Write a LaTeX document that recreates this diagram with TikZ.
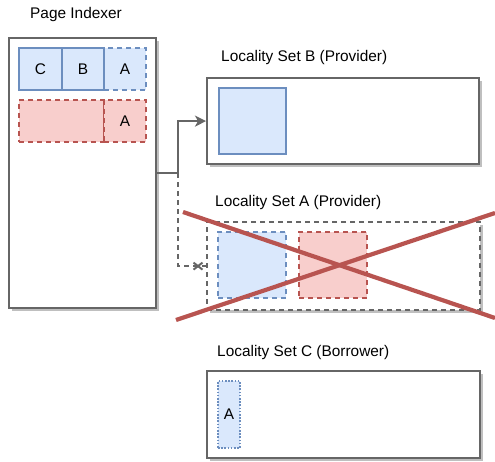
\documentclass[tikz,border=0pt]{standalone}
\usepackage{fontspec}
\setmainfont{Liberation Sans}
\usetikzlibrary{shadows,arrows.meta}
\definecolor{bluefill}{HTML}{DAE8FC}
\definecolor{bluedraw}{HTML}{6C8EBF}
\definecolor{redfill}{HTML}{F8CECC}
\definecolor{reddraw}{HTML}{B85450}
\definecolor{framegray}{HTML}{666666}
\tikzset{
  box/.style={draw=framegray, line width=2.2pt, fill=white, anchor=north west, inner sep=0pt,
    drop shadow={shadow xshift=2.5pt, shadow yshift=-2.5pt, opacity=0.25, fill=black}},
  cell/.style={anchor=north west, inner sep=0pt, line width=2pt},
  bluecell/.style={cell, draw=bluedraw, fill=bluefill},
  redcell/.style={cell, draw=reddraw, fill=redfill},
  dash5/.style={dash pattern=on 5pt off 4pt},
  dots/.style={dash pattern=on 1.6pt off 1.6pt},
  caption/.style={inner sep=0pt, anchor=west},
}
\begin{document}
\begin{tikzpicture}[x=1pt, y=-1pt, font=\fontsize{15.4}{18}\selectfont]
\useasboundingbox (0,0) rectangle (495,461);

% Page indexer column
\node[box, minimum width=147pt, minimum height=270pt] (pi) at (8,37) {};
\node[inner sep=0pt] (pilabel) at (76,15) {Page Indexer};

\node[bluecell, dash5, minimum width=42pt, minimum height=42pt] (ia) at (103,47) {A};
\node[bluecell, minimum width=43pt, minimum height=42pt] (ic) at (18,47) {C};
\node[bluecell, minimum width=42pt, minimum height=42pt] (ib) at (61,47) {B};

\node[redcell, dash5, minimum width=85pt, minimum height=42pt] (ir) at (18,99) {};
\node[redcell, dash5, minimum width=42pt, minimum height=42pt] (ira) at (103,99) {A};

% Locality set B
\node[box, minimum width=272pt, minimum height=86pt] (lsb) at (206,77) {};
\node[caption] (lsblabel) at (221,58) {Locality Set B (Provider)};
\node[bluecell, minimum width=67pt, minimum height=66pt] (lsbp) at (218,87) {};

% Locality set A (dropped)
\node[box, dash5, minimum width=273pt, minimum height=88pt] (lsa) at (206,221) {};
\node[caption] (lsalabel) at (215,203) {Locality Set A (Provider)};
\node[bluecell, dash5, minimum width=68pt, minimum height=66pt] (lsab) at (217,231) {};
\node[redcell, dash5, minimum width=68pt, minimum height=66pt] (lsar) at (298,231) {};

% Locality set C
\node[box, minimum width=273pt, minimum height=87pt] (lsc) at (206,370) {};
\node[caption] (lsclabel) at (217,353) {Locality Set C (Borrower)};
\node[bluecell, dots, minimum width=22pt, minimum height=67pt] (lsca) at (217,380) {A};

% Connectors
\coordinate (fork) at ([xshift=21pt]pi.east);
\draw[framegray, line width=2pt, -{Stealth[length=11pt, width=11pt, inset=3pt]}]
  (pi.east) -- (fork) |- (lsb.west);
\draw[framegray, line width=2pt, dash5] (fork) |- (lsa.west);
\coordinate (cut) at ([xshift=-8pt]lsa.west);
\draw[framegray, line width=2pt] ([shift={(-4.5pt,-3.5pt)}]cut) -- ([shift={(4.5pt,3.5pt)}]cut)
  ([shift={(-4.5pt,3.5pt)}]cut) -- ([shift={(4.5pt,-3.5pt)}]cut);

% Cross-out over set A
\draw[reddraw, line width=4.2pt] (183,212) -- (495,318);
\draw[reddraw, line width=4.2pt] (176,320) -- (495,213);
\end{tikzpicture}
\end{document}
